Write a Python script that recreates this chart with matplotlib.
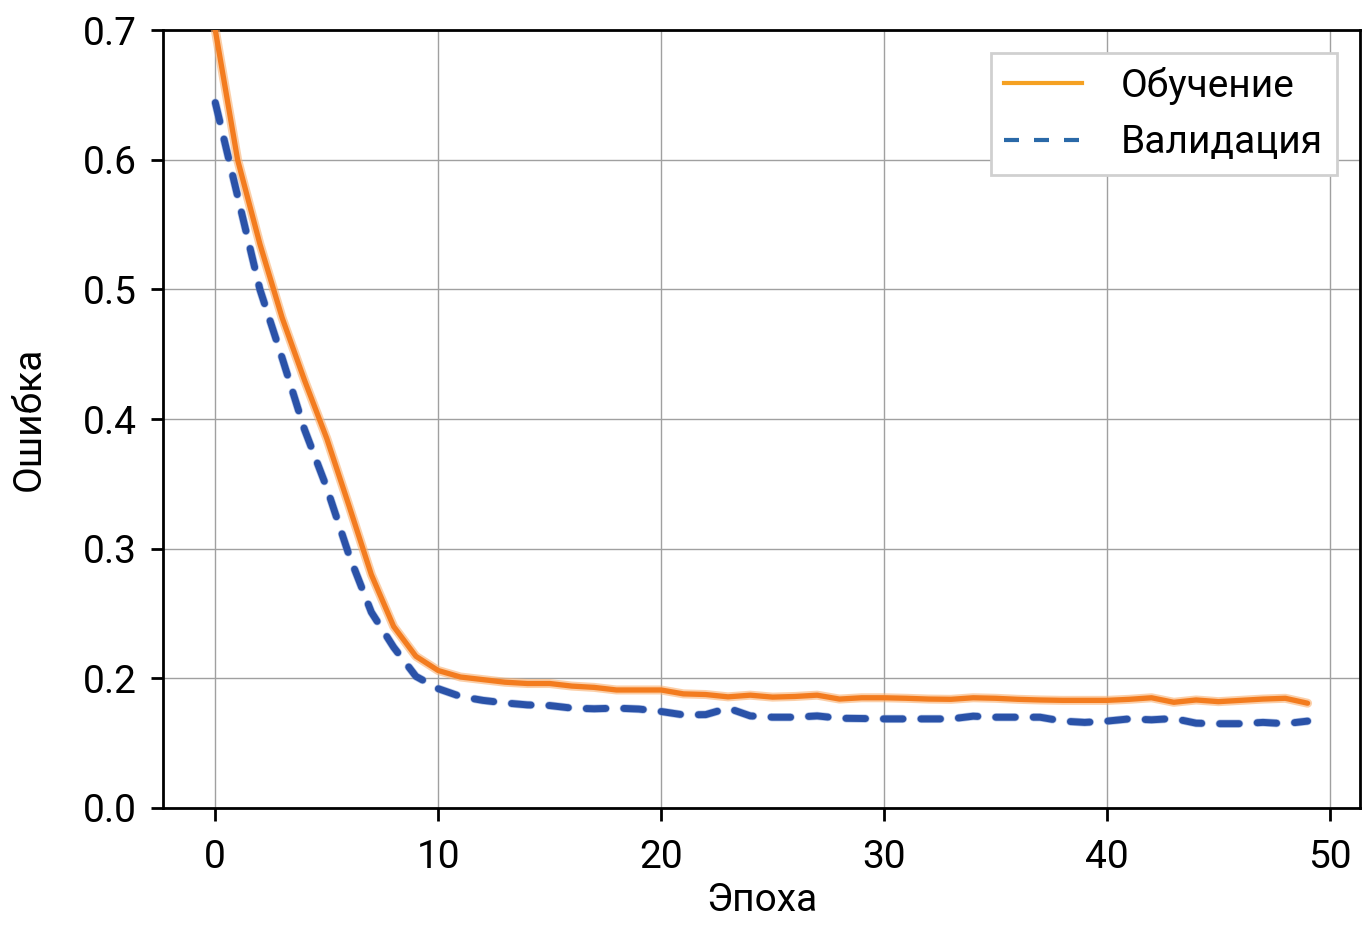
import matplotlib

matplotlib.use("Agg")

import matplotlib.pyplot as plt
import matplotlib.patheffects as pe
from matplotlib.lines import Line2D
import numpy as np

# epochs and loss values
epochs = np.arange(50)
train_loss = [
    0.700, 0.600, 0.535, 0.478, 0.430, 0.385, 0.333, 0.280, 0.240, 0.217,
    0.206, 0.201, 0.199, 0.197, 0.196, 0.196, 0.194, 0.193, 0.191, 0.191,
    0.191, 0.188, 0.1875, 0.1857, 0.187, 0.1855, 0.186, 0.187, 0.184, 0.185,
    0.185, 0.1846, 0.184, 0.1838, 0.185, 0.1846, 0.1838, 0.1833, 0.183, 0.183,
    0.183, 0.1838, 0.185, 0.1815, 0.1833, 0.182, 0.183, 0.184, 0.1846, 0.1808,
]
val_loss = [
    0.644, 0.572, 0.500, 0.447, 0.392, 0.347, 0.295, 0.251, 0.224, 0.2015,
    0.192, 0.186, 0.183, 0.181, 0.1795, 0.179, 0.177, 0.1765, 0.177, 0.1763,
    0.1744, 0.1718, 0.172, 0.177, 0.171, 0.170, 0.170, 0.171, 0.1692, 0.169,
    0.1687, 0.1687, 0.1687, 0.1687, 0.1708, 0.170, 0.170, 0.170, 0.167, 0.166,
    0.167, 0.1687, 0.168, 0.169, 0.1654, 0.165, 0.165, 0.166, 0.165, 0.167,
]
series_labels = ["Обучение", "Валидация"]
ytick_pos = [0.1, 0.2, 0.3, 0.4, 0.5, 0.6, 0.7]
ytick_labels = ["0.0", "0.2", "0.3", "0.4", "0.5", "0.6", "0.7"]
xtick_pos = [0, 10, 20, 30, 40, 50]

plt.rcParams["font.family"] = ["Roboto", "DejaVu Sans"]
fs = 28

fig = plt.figure(figsize=(13.69, 9.27), dpi=100)
ax = fig.add_axes([0.119, 0.1284, 0.8744, 0.8392])

ax.grid(True, color="#a0a0a0", linewidth=1.0, zorder=0)

ax.plot(
    epochs, train_loss, color="#f37c1f", linewidth=3.8, solid_capstyle="round",
    path_effects=[pe.Stroke(linewidth=6.5, foreground="#f9b070", alpha=0.6), pe.Normal()],
    zorder=3,
)
ax.plot(
    epochs, val_loss, color="#2a52a8", linewidth=5, linestyle=(0, (2.8, 2.6)),
    dash_capstyle="round", zorder=3,
    path_effects=[pe.Stroke(linewidth=6, foreground="#6f8fd0", alpha=0.5), pe.Normal()],
)

ax.set_xlim(-2.35, 51.35)
ax.set_ylim(0.1, 0.7)
ax.set_xticks(xtick_pos)
ax.set_yticks(ytick_pos)
ax.set_yticklabels(ytick_labels)
ax.tick_params(labelsize=fs, length=9, width=2, pad=10)
ax.tick_params(axis="x", pad=13)
for s in ax.spines.values():
    s.set_linewidth(2)

ax.set_xlabel("Эпоха", fontsize=fs, labelpad=5)
ax.set_ylabel("Ошибка", fontsize=fs, labelpad=25)

handles = [
    Line2D([], [], color="#f5a122", linewidth=3),
    Line2D([], [], color="#2a69a8", linewidth=3, linestyle=(0, (3.6, 3.6))),
]
leg = ax.legend(
    handles, series_labels, loc="upper right", fontsize=fs, fancybox=False,
    framealpha=1, edgecolor="#d0d0d0", handlelength=2.0, handletextpad=1.0,
    borderpad=0.35, labelspacing=0.5, borderaxespad=0.6,
)
leg.get_frame().set_linewidth(2)

fig.savefig("out.png", dpi=100)
plt.close(fig)
